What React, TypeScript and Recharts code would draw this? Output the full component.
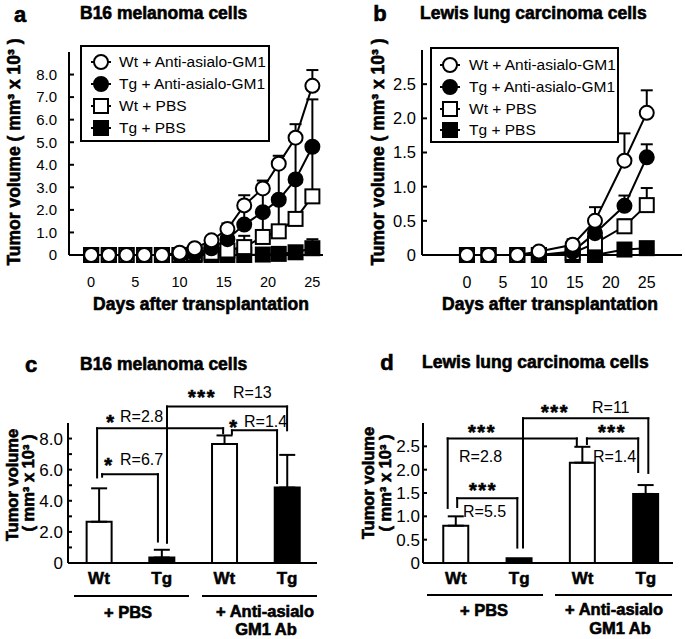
import React from 'react';
import {
  Bar,
  Cell,
  ComposedChart,
  ErrorBar,
  Line,
  LineChart,
  ReferenceLine,
  XAxis,
  YAxis,
} from 'recharts';

const FONT = '"Liberation Sans", Arial, Helvetica, sans-serif';
const INK = '#000';

const SERIES = [
  { key: 'wtAnti', name: 'Wt + Anti-asialo-GM1', shape: 'circle', filled: false },
  { key: 'tgAnti', name: 'Tg + Anti-asialo-GM1', shape: 'circle', filled: true },
  { key: 'wtPbs', name: 'Wt + PBS', shape: 'square', filled: false },
  { key: 'tgPbs', name: 'Tg + PBS', shape: 'square', filled: true },
];

// panel a - B16 melanoma growth (x 10^3 mm^3)
const b16Days = [0, 2, 4, 6, 8, 10, 11.7, 13.6, 15.4, 17.3, 19.4, 21.2, 23.1, 25];
const b16WtAnti = [0, 0, 0, 0, 0, 0.1, 0.3, 0.65, 1.15, 2.2, 2.95, 4.05, 5.2, 7.5];
const b16WtAntiErr = [0, 0, 0, 0, 0, 0, 0, 0, 0.25, 0.45, 0.35, 0.35, 0.6, 0.7];
const b16TgAnti = [0, 0, 0, 0, 0, 0, 0.05, 0.3, 0.7, 1.35, 1.9, 2.45, 3.35, 4.8];
const b16TgAntiErr = [0, 0, 0, 0, 0, 0, 0, 0, 0.3, 0.8, 1.1, 1.6, 1.9, 2.1];
const b16WtPbs = [0, 0, 0, 0, 0, 0, 0.05, 0.1, 0.2, 0.35, 0.8, 1.05, 1.6, 2.6];
const b16WtPbsErr = [0, 0, 0, 0, 0, 0, 0, 0, 0.1, 0.5, 1.1, 1.4, 1.8, 2.15];
const b16TgPbs = [0, 0, 0, 0, 0, 0, 0, 0, 0, 0, 0.02, 0.05, 0.12, 0.3];
const b16TgPbsErr = [0, 0, 0, 0, 0, 0, 0, 0, 0, 0, 0, 0, 0, 0.4];

// panel b - Lewis lung carcinoma growth
const llcDays = [0, 3, 7, 10, 14.7, 17.8, 21.9, 25];
const llcWtAnti = [0, 0, 0, 0.05, 0.15, 0.5, 1.38, 2.08];
const llcWtAntiErr = [0, 0, 0, 0, 0.08, 0.2, 0.4, 0.33];
const llcTgAnti = [0, 0, 0, 0, 0.05, 0.32, 0.72, 1.43];
const llcTgAntiErr = [0, 0, 0, 0, 0, 0.1, 0.15, 0.19];
const llcWtPbs = [0, 0, 0, 0, 0.03, 0.17, 0.42, 0.73];
const llcWtPbsErr = [0, 0, 0, 0, 0, 0.05, 0.1, 0.25];
const llcTgPbs = [0, 0, 0, 0, 0, 0, 0.08, 0.1];
const llcTgPbsErr = [0, 0, 0, 0, 0, 0, 0, 0];

// panels c/d - day 25 volumes
const barLabels = ['Wt', 'Tg', 'Wt', 'Tg'];
const b16Final = [2.65, 0.35, 7.65, 4.85];
const b16FinalErr = [2.15, 0.5, 0.55, 2.1];
const llcFinal = [0.8, 0.1, 2.15, 1.48];
const llcFinalErr = [0.2, 0, 0.34, 0.19];

// significance brackets, in data units (x = bar index, y = volume)
const b16Brackets = [
  { from: 1.085, to: 3.0, top: 10.06, left: 1.3, right: 8.53 },
  { from: -0.03, to: 1.98, top: 8.66, left: 5.5, right: 8.34 },
  { from: 0.05, to: 0.94, top: 5.71, left: 5.55, right: 1.38 },
  { from: 2.12, to: 2.84, top: 8.53, left: 8.3, right: 5.14 },
];
const llcBrackets = [
  { from: 1.06, to: 3.04, top: 3.1, left: 0.33, right: 1.93 },
  { from: -0.13, to: 1.91, top: 2.67, left: 1.18, right: 2.52 },
  { from: 0.02, to: 0.97, top: 1.39, left: 1.2, right: 0.33 },
  { from: 2.07, to: 2.88, top: 2.67, left: 2.55, right: 1.95 },
];

function growthRows(days: number[], values: Record<string, number[]>, errors: Record<string, number[]>) {
  return days.map((day, i) => {
    const row: Record<string, any> = { day };
    for (const k of Object.keys(values)) {
      row[k] = values[k][i];
      const e = errors[k][i];
      row[k + 'Err'] = e > 0 ? [0, e] : null;
    }
    return row;
  });
}

const b16Rows = growthRows(
  b16Days,
  { wtAnti: b16WtAnti, tgAnti: b16TgAnti, wtPbs: b16WtPbs, tgPbs: b16TgPbs },
  { wtAnti: b16WtAntiErr, tgAnti: b16TgAntiErr, wtPbs: b16WtPbsErr, tgPbs: b16TgPbsErr },
);
const llcRows = growthRows(
  llcDays,
  { wtAnti: llcWtAnti, tgAnti: llcTgAnti, wtPbs: llcWtPbs, tgPbs: llcTgPbs },
  { wtAnti: llcWtAntiErr, tgAnti: llcTgAntiErr, wtPbs: llcWtPbsErr, tgPbs: llcTgPbsErr },
);

const barRows = (vals: number[], errs: number[]) =>
  vals.map((v, i) => ({ pos: i, value: v, err: errs[i] > 0 ? [0, errs[i]] : null }));

function Marker({ shape, filled, cx, cy }: { shape: string; filled: boolean; cx: number; cy: number }) {
  const fill = filled ? INK : '#fff';
  if (shape === 'circle') {
    return <circle cx={cx} cy={cy} r={7} fill={fill} stroke={INK} strokeWidth={2} />;
  }
  return <rect x={cx - 7} y={cy - 7} width={14} height={14} fill={fill} stroke={INK} strokeWidth={2} />;
}

function Txt({
  x, y, text, size = 15, bold = false, anchor = 'start', star = false, rotate = false,
}: {
  x: number; y: number; text: string; size?: number; bold?: boolean;
  anchor?: 'start' | 'middle' | 'end'; star?: boolean; rotate?: boolean;
}) {
  const shift = anchor === 'middle' ? '-50%' : anchor === 'end' ? '-100%' : '0';
  // asterisks sit high in the em box: use a short line box and drop it so the glyph centres on y
  const lh = star ? size * 0.5 : size;
  const top = rotate ? y : star ? y - lh / 2 + 0.21 * size : y - 0.49 * size;
  const style: React.CSSProperties = {
    position: 'absolute',
    left: x,
    top,
    fontSize: size,
    lineHeight: `${lh}px`,
    fontWeight: bold ? 700 : 400,
    whiteSpace: 'nowrap',
    color: INK,
    letterSpacing: star ? 1.5 : undefined,
    WebkitTextStroke: bold ? '0.6px #000' : undefined,
    transform: rotate ? 'translate(-50%, -50%) rotate(-90deg)' : `translateX(${shift})`,
  };
  return <div style={style}>{text}</div>;
}

function GrowthLegend({ left, top, width, height, rowsY, iconX, textX, size }: {
  left: number; top: number; width: number; height: number; rowsY: number[];
  iconX: number; textX: number; size: number;
}) {
  return (
    <div style={{ position: 'absolute', left, top, width, height, border: '2px solid #000', boxSizing: 'border-box' }}>
      {SERIES.map((s, i) => (
        <React.Fragment key={s.key}>
          <svg
            width={24}
            height={18}
            style={{ position: 'absolute', left: iconX - left - 12, top: rowsY[i] - top - 9 }}
          >
            <line x1={2} y1={9} x2={22} y2={9} stroke={INK} strokeWidth={2} />
            <Marker shape={s.shape} filled={s.filled} cx={12} cy={9} />
          </svg>
          <div
            style={{
              position: 'absolute',
              left: textX - left,
              top: rowsY[i] - top - size * 0.5,
              fontSize: size,
              lineHeight: `${size}px`,
              whiteSpace: 'nowrap',
            }}
          >
            {s.name}
          </div>
        </React.Fragment>
      ))}
    </div>
  );
}

function GrowthChart({ rows, width, height, margin, xDomain, yDomain, yTicks, yFont, xFont, yGap }: {
  rows: Record<string, any>[]; width: number; height: number;
  margin: { top: number; right: number; bottom: number; left: number };
  xDomain: [number, number]; yDomain: [number, number]; yTicks: number[];
  yFont: number; xFont: number; yGap: number;
}) {
  const order = [...SERIES].reverse();
  return (
    <LineChart width={width} height={height} data={rows} margin={margin}>
      <XAxis
        type="number"
        dataKey="day"
        domain={xDomain}
        ticks={[0, 5, 10, 15, 20, 25]}
        interval={0}
        height={30}
        tickLine={false}
        tickSize={0}
        tickMargin={22}
        axisLine={{ stroke: INK, strokeWidth: 2 }}
        tick={{ fill: INK, fontSize: xFont, fontFamily: FONT }}
      />
      <YAxis
        type="number"
        domain={yDomain}
        ticks={yTicks}
        interval={0}
        width={40}
        tickSize={-5}
        tickMargin={yGap}
        tickFormatter={(v: number) => (v === 0 ? '0' : v.toFixed(1))}
        axisLine={{ stroke: INK, strokeWidth: 2 }}
        tickLine={{ stroke: INK, strokeWidth: 2 }}
        tick={{ fill: INK, fontSize: yFont, fontFamily: FONT }}
      />
      {order.map((s) => (
        <Line
          key={s.key}
          dataKey={s.key}
          stroke={INK}
          strokeWidth={2}
          isAnimationActive={false}
          activeDot={false}
          dot={(p: any) => (
            <Marker key={`${s.key}-${p.index}`} shape={s.shape} filled={s.filled} cx={p.cx} cy={p.cy} />
          )}
        >
          <ErrorBar dataKey={`${s.key}Err`} direction="y" width={6} stroke={INK} strokeWidth={2} />
        </Line>
      ))}
    </LineChart>
  );
}

type Bracket = { from: number; to: number; top: number; left: number; right: number };

function FinalBars({ rows, brackets, width, height, margin, xDomain, yDomain, yTicks, yGap, showLabel }: {
  rows: Record<string, any>[]; brackets: Bracket[]; width: number; height: number;
  margin: { top: number; right: number; bottom: number; left: number };
  xDomain: [number, number]; yDomain: [number, number]; yTicks: number[]; yGap: number;
  showLabel: (v: number) => string;
}) {
  const seg = { stroke: INK, strokeWidth: 2, ifOverflow: 'visible' as const, strokeLinecap: 'square' as const };
  return (
    <ComposedChart width={width} height={height} data={rows} margin={margin}>
      <XAxis
        type="number"
        dataKey="pos"
        domain={xDomain}
        ticks={[0, 1, 2, 3]}
        interval={0}
        height={30}
        tickLine={false}
        tickSize={0}
        tickMargin={9}
        tickFormatter={(v: number) => barLabels[v]}
        axisLine={{ stroke: INK, strokeWidth: 2 }}
        tick={{ fill: INK, fontSize: 17, fontWeight: 700, fontFamily: FONT, stroke: INK, strokeWidth: 0.5 }}
      />
      <YAxis
        type="number"
        domain={yDomain}
        ticks={yTicks}
        interval={0}
        width={40}
        tickSize={-4}
        tickMargin={yGap}
        tickFormatter={showLabel}
        axisLine={{ stroke: INK, strokeWidth: 2 }}
        tickLine={{ stroke: INK, strokeWidth: 2 }}
        tick={{ fill: INK, fontSize: 17, fontFamily: FONT }}
      />
      <Bar dataKey="value" barSize={25} stroke={INK} strokeWidth={2} isAnimationActive={false}>
        {rows.map((_, i) => (
          <Cell key={`c-${i}`} fill={i % 2 === 0 ? '#fff' : INK} />
        ))}
        <ErrorBar dataKey="err" direction="y" width={8} stroke={INK} strokeWidth={2} />
      </Bar>
      {brackets.map((b, i) => [
        <ReferenceLine key={`l${i}`} segment={[{ x: b.from, y: b.left }, { x: b.from, y: b.top }]} {...seg} />,
        <ReferenceLine key={`t${i}`} segment={[{ x: b.from, y: b.top }, { x: b.to, y: b.top }]} {...seg} />,
        <ReferenceLine key={`r${i}`} segment={[{ x: b.to, y: b.top }, { x: b.to, y: b.right }]} {...seg} />,
      ])}
    </ComposedChart>
  );
}

const TITLE = 17.5;
const GROUP = 16.5;
const STAR = 20;
const RTXT = 16;

export default function App() {
  return (
    <div
      style={{
        position: 'absolute',
        left: 0,
        top: 0,
        width: 685,
        height: 639,
        background: '#fff',
        fontFamily: FONT,
        color: INK,
      }}
    >
      {/* a */}
      <div style={{ position: 'absolute', left: 0, top: 0 }}>
        <GrowthChart
          rows={b16Rows}
          width={340}
          height={320}
          margin={{ top: 52, right: 17, bottom: 35, left: 29 }}
          xDomain={[-2.5, 26.2]}
          yDomain={[0, 9]}
          yTicks={[0, 1, 2, 3, 4, 5, 6, 7, 8]}
          yFont={15}
          xFont={14.5}
          yGap={17}
        />
      </div>
      {/* b */}
      <div style={{ position: 'absolute', left: 340, top: 0 }}>
        <GrowthChart
          rows={llcRows}
          width={345}
          height={320}
          margin={{ top: 50, right: 3, bottom: 35, left: 42 }}
          xDomain={[-6.25, 29.9]}
          yDomain={[0, 3]}
          yTicks={[0, 0.5, 1, 1.5, 2, 2.5]}
          yFont={16.5}
          xFont={16}
          yGap={11}
        />
      </div>
      {/* c */}
      <div style={{ position: 'absolute', left: 0, top: 320 }}>
        <FinalBars
          rows={barRows(b16Final, b16FinalErr)}
          brackets={b16Brackets}
          width={340}
          height={319}
          margin={{ top: 103, right: 23, bottom: 46, left: 28 }}
          xDomain={[-0.494, 3.477]}
          yDomain={[0, 9]}
          yTicks={[0, 1, 2, 3, 4, 5, 6, 7, 8]}
          yGap={9}
          showLabel={(v) => (v % 2 ? '' : v === 0 ? '0' : v.toFixed(1))}
        />
      </div>
      {/* d */}
      <div style={{ position: 'absolute', left: 340, top: 320 }}>
        <FinalBars
          rows={barRows(llcFinal, llcFinalErr)}
          brackets={llcBrackets}
          width={345}
          height={319}
          margin={{ top: 103, right: 12, bottom: 46, left: 43 }}
          xDomain={[-0.52, 3.43]}
          yDomain={[0, 3]}
          yTicks={[0, 0.5, 1, 1.5, 2, 2.5]}
          yGap={7}
          showLabel={(v) => (v === 0 ? '0' : v.toFixed(1))}
        />
      </div>

      {/* titles */}
      <Txt x={20} y={15} text="a" size={22} bold anchor="middle" />
      <Txt x={80} y={14} text="B16 melanoma cells" size={TITLE} bold />
      <Txt x={380} y={14} text="b" size={22} bold anchor="middle" />
      <Txt x={420} y={14} text="Lewis lung carcinoma cells" size={TITLE} bold />
      <Txt x={31} y={365} text="c" size={22} bold anchor="middle" />
      <Txt x={80} y={365} text="B16 melanoma cells" size={TITLE} bold />
      <Txt x={387} y={363} text="d" size={22} bold anchor="middle" />
      <Txt x={422} y={363} text="Lewis lung carcinoma cells" size={TITLE} bold />

      {/* axis titles */}
      <Txt x={15} y={152} text="Tumor volume ( mm³ x 10³ )" size={TITLE} bold rotate />
      <Txt x={379} y={152} text="Tumor volume ( mm³ x 10³ )" size={TITLE} bold rotate />
      <Txt x={201} y={305} text="Days after transplantation" size={TITLE} bold anchor="middle" />
      <Txt x={550} y={305} text="Days after transplantation" size={TITLE} bold anchor="middle" />
      <Txt x={12} y={485} text="Tumor volume" size={16.5} bold rotate />
      <Txt x={28} y={483} text="( mm³ x 10³ )" size={16.5} bold rotate />
      <Txt x={368} y={483} text="Tumor volume" size={16.5} bold rotate />
      <Txt x={385} y={483} text="( mm³ x 10³ )" size={16.5} bold rotate />

      {/* legends */}
      <GrowthLegend left={80} top={45} width={190} height={97} rowsY={[60, 82, 104, 126]} iconX={99} textX={117} size={15.5} />
      <GrowthLegend left={430} top={47} width={189} height={96} rowsY={[63, 85, 107, 128]} iconX={448} textX={467} size={15.5} />

      {/* group rules and labels under c/d */}
      <div style={{ position: 'absolute', left: 74, top: 595, width: 115, borderTop: '2px solid #000' }} />
      <div style={{ position: 'absolute', left: 202, top: 595, width: 115, borderTop: '2px solid #000' }} />
      <div style={{ position: 'absolute', left: 427, top: 594, width: 116, borderTop: '2px solid #000' }} />
      <div style={{ position: 'absolute', left: 555, top: 594, width: 117, borderTop: '2px solid #000' }} />
      <Txt x={128} y={612} text="+ PBS" size={GROUP} bold anchor="middle" />
      <Txt x={265} y={611} text="+ Anti-asialo" size={GROUP} bold anchor="middle" />
      <Txt x={266} y={629} text="GM1 Ab" size={GROUP} bold anchor="middle" />
      <Txt x={484} y={610} text="+ PBS" size={GROUP} bold anchor="middle" />
      <Txt x={614} y={609} text="+ Anti-asialo" size={GROUP} bold anchor="middle" />
      <Txt x={620} y={628} text="GM1 Ab" size={GROUP} bold anchor="middle" />

      {/* significance labels c */}
      <Txt x={202} y={393} text="***" size={STAR} bold star anchor="middle" />
      <Txt x={233} y={393} text="R=13" size={RTXT} />
      <Txt x={111} y={418} text="*" size={STAR} bold star anchor="middle" />
      <Txt x={120} y={417} text="R=2.8" size={RTXT} />
      <Txt x={109} y={461} text="*" size={STAR} bold star anchor="middle" />
      <Txt x={120} y={460} text="R=6.7" size={RTXT} />
      <Txt x={234} y={423} text="*" size={STAR} bold star anchor="middle" />
      <Txt x={244} y={422} text="R=1.4" size={RTXT} />

      {/* significance labels d */}
      <Txt x={555} y={408} text="***" size={STAR} bold star anchor="middle" />
      <Txt x={592} y={408} text="R=11" size={RTXT} />
      <Txt x={482} y={428} text="***" size={STAR} bold star anchor="middle" />
      <Txt x={459} y={457} text="R=2.8" size={RTXT} />
      <Txt x={483} y={486} text="***" size={STAR} bold star anchor="middle" />
      <Txt x={463} y={512} text="R=5.5" size={RTXT} />
      <Txt x={612} y={428} text="***" size={STAR} bold star anchor="middle" />
      <Txt x={593} y={457} text="R=1.4" size={RTXT} />
    </div>
  );
}
